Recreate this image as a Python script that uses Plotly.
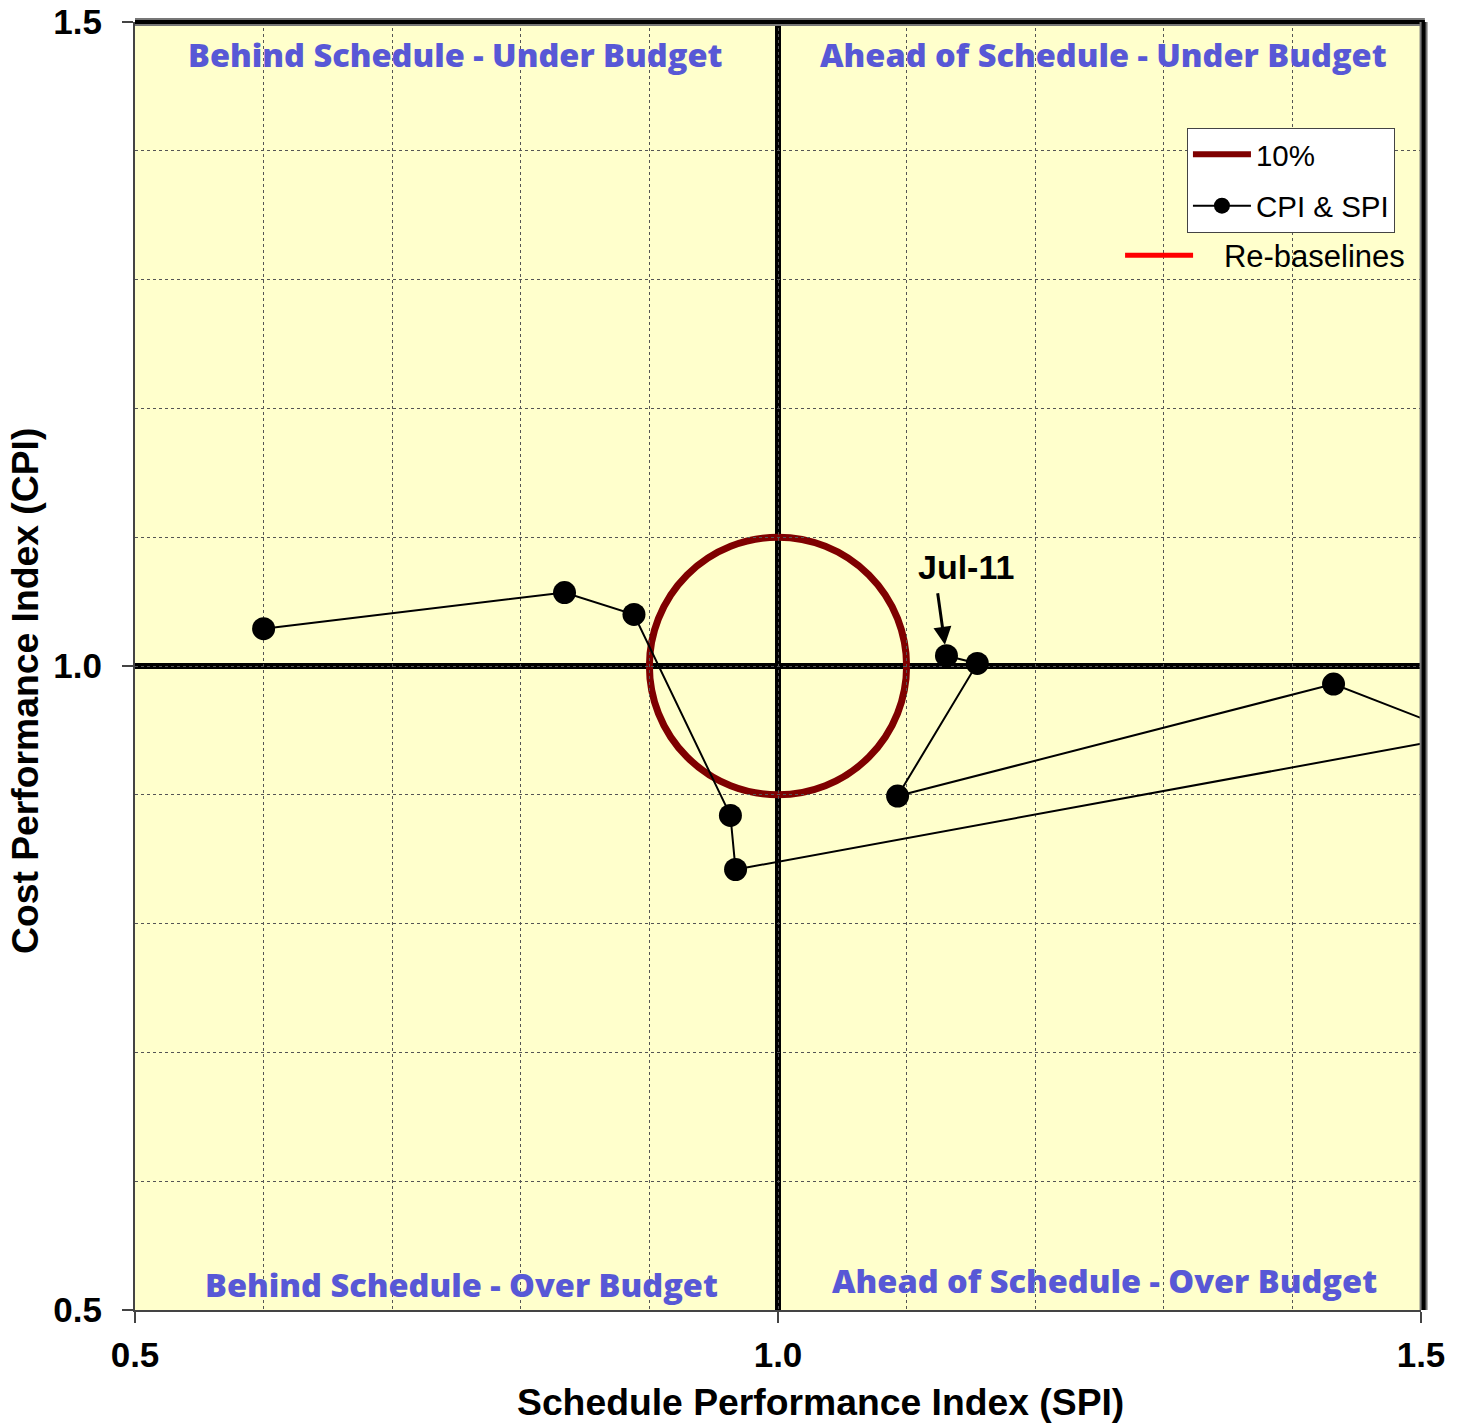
import plotly.graph_objects as go

# CPI & SPI history (last point is Jul-11)
spi = [0.600, 0.834, 0.888, 0.963, 0.967, 1.535, 1.432, 1.093, 1.155, 1.131]
cpi = [1.029, 1.057, 1.040, 0.884, 0.842, 0.946, 0.986, 0.899, 1.002, 1.008]
last_label = "Jul-11"

threshold = 0.10  # 10% circle around (1,1)
axis_range = [0.5, 1.5]
tick_vals = [0.5, 1.0, 1.5]

quadrants = [
    ("Behind Schedule - Under Budget", 0.749, 1.475),
    ("Ahead of Schedule - Under Budget", 1.253, 1.475),
    ("Behind Schedule - Over Budget", 0.754, 0.520),
    ("Ahead of Schedule - Over Budget", 1.254, 0.523),
]

DARKRED = "#7F0000"
QCOL = "#5858D6"

fig = go.Figure()

# legend-only entry for the 10% circle
fig.add_trace(go.Scatter(x=[None], y=[None], mode="lines", name="10%",
                         legendgroup="a",
                         line=dict(color=DARKRED, width=6)))
fig.add_trace(go.Scatter(x=spi, y=cpi, mode="lines+markers", name="CPI & SPI",
                         legendgroup="b",
                         line=dict(color="black", width=2),
                         marker=dict(color="black", size=23)))
fig.add_trace(go.Scatter(x=[None], y=[None], mode="lines",
                         name="\u00a0\u00a0\u00a0Re-baselines",
                         line=dict(color="red", width=5), legend="legend2"))

shapes = [
    dict(type="line", xref="x", yref="y", x0=1.0, x1=1.0, y0=0.5, y1=1.5,
         line=dict(color="black", width=6), layer="below"),
    dict(type="line", xref="x", yref="y", x0=0.5, x1=1.5, y0=1.0, y1=1.0,
         line=dict(color="black", width=6), layer="below"),
    dict(type="circle", xref="x", yref="y",
         x0=1 - threshold, x1=1 + threshold, y0=1 - threshold, y1=1 + threshold,
         line=dict(color=DARKRED, width=7), layer="below"),
    # heavy frame on top and right
    dict(type="line", xref="paper", yref="paper", x0=0, x1=1.003, y0=1, y1=1,
         line=dict(color="#777777", width=8)),
    dict(type="line", xref="paper", yref="paper", x0=0, x1=1.003, y0=1, y1=1,
         line=dict(color="black", width=4)),
    dict(type="line", xref="paper", yref="paper", x0=1.002, x1=1.002, y0=0, y1=1,
         line=dict(color="#777777", width=8)),
    dict(type="line", xref="paper", yref="paper", x0=1.002, x1=1.002, y0=0, y1=1,
         line=dict(color="black", width=4)),
]

annotations = []
for txt, qx, qy in quadrants:
    annotations.append(dict(x=qx, y=qy, xref="x", yref="y", text=txt, showarrow=False,
                            font=dict(family="Open Sans", size=32.5, color=QCOL, weight=800)))

annotations.append(dict(x=spi[-1], y=cpi[-1], xref="x", yref="y", text="",
                        showarrow=True, arrowhead=2, arrowsize=1.2, arrowwidth=3,
                        arrowcolor="black", ax=-9, ay=-64, standoff=11))
annotations.append(dict(x=spi[-1], y=cpi[-1], xref="x", yref="y", text="<b>" + last_label + "</b>",
                        showarrow=False, xshift=20, yshift=89,
                        font=dict(family="Liberation Sans", size=34, color="black")))

# axis titles as annotations (the x title sits right of centre in the original)
annotations.append(dict(x=0.5334, y=-0.0714, xref="paper", yref="paper",
                        xanchor="center", yanchor="middle",
                        text="<b>Schedule Performance Index (SPI)</b>", showarrow=False,
                        font=dict(family="Liberation Sans", size=37.3, color="black")))
annotations.append(dict(x=-0.0855, y=0.4806, xref="paper", yref="paper", textangle=-90,
                        xanchor="center", yanchor="middle",
                        text="<b>Cost Performance Index (CPI)</b>", showarrow=False,
                        font=dict(family="Liberation Sans", size=37.3, color="black")))

axis_common = dict(
    range=axis_range, tickvals=tick_vals, ticktext=["0.5", "1.0", "1.5"],
    showgrid=False, zeroline=False, automargin=False,
    showline=True, linecolor="#444444", linewidth=2,
    ticks="outside", ticklen=11, tickcolor="#444444", tickwidth=2,
    tickfont=dict(family="Liberation Sans", size=35, color="black", weight="bold"),
    minor=dict(dtick=0.1, showgrid=True, gridcolor="#555555", griddash="dot",
               gridwidth=1, ticks=""),
)

fig.update_layout(
    width=1465, height=1425,
    margin=dict(l=135, r=44, t=22, b=115),
    paper_bgcolor="white", plot_bgcolor="#FFFFCC",
    shapes=shapes, annotations=annotations,
    showlegend=True,
    legend=dict(x=0.818, y=0.918, xanchor="left", yanchor="top",
                bgcolor="white", bordercolor="#444444", borderwidth=1,
                font=dict(family="Liberation Sans", size=29.5, color="black"),
                itemwidth=58, tracegroupgap=10),
    legend2=dict(x=0.766, y=0.8395, xanchor="left", yanchor="top",
                 bgcolor="rgba(0,0,0,0)", borderwidth=0,
                 font=dict(family="Liberation Sans", size=31, color="black"),
                 itemwidth=68),
)
fig.update_xaxes(**axis_common, ticklabelstandoff=2)
fig.update_yaxes(**axis_common, ticklabelstandoff=13)

fig.write_html("out.html", config={"displayModeBar": False},
               post_script="document.body.style.margin='0';")
